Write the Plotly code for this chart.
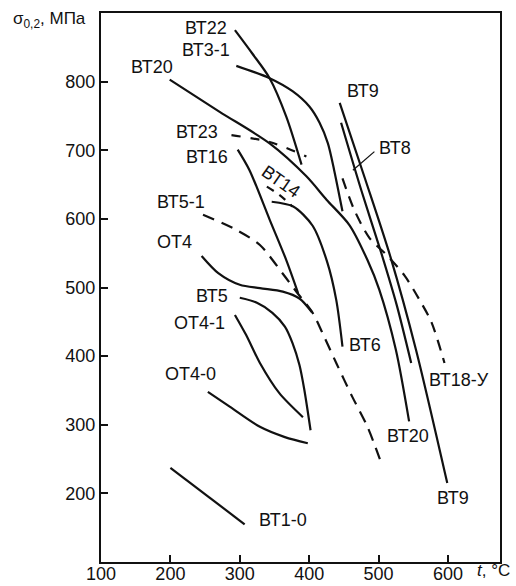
import plotly.graph_objects as go

# ---- data (temperature t, °C ; yield strength, MPa) ----
bt22_t = [293, 318, 343, 367, 389]
bt22_v = [875, 841, 805, 749, 679]
bt31_t = [295, 343, 376, 400, 415, 427, 436, 448]
bt31_v = [823, 805, 786, 764, 740, 710, 671, 611]
bt20_t = [199, 271, 343, 396, 425, 458, 484, 501, 525, 544]
bt20_v = [803, 756, 710, 662, 628, 591, 540, 497, 409, 305]
bt23_t = [288, 343, 396]
bt23_v = [722, 712, 691]
bt16_t = [297, 314, 343, 367, 384]
bt16_v = [701, 671, 599, 540, 492]
bt14_t = [339, 357, 376]
bt14_v = [647, 635, 618]
bt6_t = [346, 377, 405, 426, 439, 448]
bt6_v = [625, 618, 590, 537, 482, 414]
bt9_t = [444, 481, 517, 554, 599]
bt9_v = [769, 657, 545, 409, 215]
bt8_t = [446, 475, 504, 526, 547]
bt8_v = [740, 642, 550, 475, 390]
bt18_t = [448, 465, 487, 511, 537, 559, 576, 595]
bt18_v = [659, 613, 572, 548, 518, 482, 450, 390]
bt51_t = [247, 295, 329, 362, 383, 405, 419, 439, 462, 484, 504]
bt51_v = [606, 584, 562, 520, 492, 463, 434, 390, 341, 297, 244]
ot4_t = [245, 269, 300, 329, 362, 386, 404]
ot4_v = [546, 521, 504, 499, 494, 484, 464]
bt5_t = [300, 324, 347, 365, 376, 386, 393, 402]
bt5_v = [485, 478, 463, 443, 419, 387, 351, 292]
ot41_t = [293, 309, 329, 357, 391]
ot41_v = [460, 431, 390, 346, 311]
ot40_t = [254, 286, 329, 365, 398]
ot40_v = [348, 326, 297, 282, 273]
bt10_t = [200, 307]
bt10_v = [237, 155]
bt8_lead_t = [463, 494]
bt8_lead_v = [671, 698]

x_ticks = [100, 200, 300, 400, 500, 600]
y_ticks = [200, 300, 400, 500, 600, 700, 800]

FONT = "Liberation Sans, Arial, sans-serif"
INK = "#111111"

curves = [
    (bt22_t, bt22_v, "solid"),
    (bt31_t, bt31_v, "solid"),
    (bt20_t, bt20_v, "solid"),
    (bt23_t, bt23_v, "9px,10px"),
    (bt16_t, bt16_v, "solid"),
    (bt14_t, bt14_v, "8px,7px"),
    (bt6_t, bt6_v, "solid"),
    (bt9_t, bt9_v, "solid"),
    (bt8_t, bt8_v, "solid"),
    (bt18_t, bt18_v, "11px,8px"),
    (bt51_t, bt51_v, "12px,8px"),
    (ot4_t, ot4_v, "solid"),
    (bt5_t, bt5_v, "solid"),
    (ot41_t, ot41_v, "solid"),
    (ot40_t, ot40_v, "solid"),
    (bt10_t, bt10_v, "solid"),
]

fig = go.Figure()
for t, v, dash in curves:
    fig.add_trace(go.Scatter(x=t, y=v, mode="lines",
                             line=dict(color=INK, width=2.2, dash=dash, shape="spline", smoothing=0.8),
                             showlegend=False, hoverinfo="skip"))
fig.add_trace(go.Scatter(x=bt8_lead_t, y=bt8_lead_v, mode="lines",
                         line=dict(color=INK, width=1.3), showlegend=False, hoverinfo="skip"))

labels = [
    ("ВТ22", 251, 878, 0), ("ВТ3-1", 252, 846, 0), ("ВТ20", 174, 822, 0),
    ("ВТ23", 238, 727, 0), ("ВТ16", 253, 690, 0), ("ВТ5-1", 216, 624, 0),
    ("ОТ4", 206, 566, 0), ("ВТ5", 260, 488, 0), ("ОТ4-1", 242, 449, 0),
    ("ОТ4-0", 229, 374, 0), ("ВТ1-0", 362, 161, 0), ("ВТ14", 360, 654, 35),
    ("ВТ6", 481, 416, 0), ("ВТ20", 542, 284, 0), ("ВТ9", 607, 193, 0),
    ("ВТ18-У", 616, 365, 0), ("ВТ9", 477, 787, 0), ("ВТ8", 523, 704, 0),
]
for txt, x, y, ang in labels:
    fig.add_annotation(x=x, y=y, text=txt, showarrow=False, textangle=ang,
                       font=dict(family=FONT, size=18, color=INK),
                       xanchor="center", yanchor="middle")

fig.add_annotation(xref="paper", yref="paper", x=-0.225, y=0.987,
                   text="σ<sub>0,2</sub>, МПа", showarrow=False,
                   xanchor="left", yanchor="middle",
                   font=dict(family=FONT, size=17, color=INK))
fig.add_annotation(xref="paper", yref="paper", x=0.937, y=-0.016,
                   text="<i>t</i>, °C", showarrow=False,
                   xanchor="left", yanchor="middle",
                   font=dict(family=FONT, size=17, color=INK))

axis_common = dict(showline=True, linewidth=2, linecolor=INK, mirror=True,
                   ticks="inside", ticklen=7, tickwidth=2, tickcolor=INK,
                   showgrid=False, zeroline=False, automargin=False,
                   tickfont=dict(family=FONT, size=18, color=INK))
fig.update_xaxes(range=[100, 675], tickvals=x_ticks, ticklabelstandoff=-6, **axis_common)
fig.update_yaxes(range=[100, 900], tickvals=y_ticks, **axis_common)

fig.update_layout(width=516, height=586,
                  margin=dict(l=101, r=16, t=13, b=24),
                  paper_bgcolor="white", plot_bgcolor="white",
                  font=dict(family=FONT, color=INK))

fig.write_html("out.html",
               config={"displayModeBar": False},
               post_script="document.body.style.margin='0';document.body.style.overflow='hidden';")
